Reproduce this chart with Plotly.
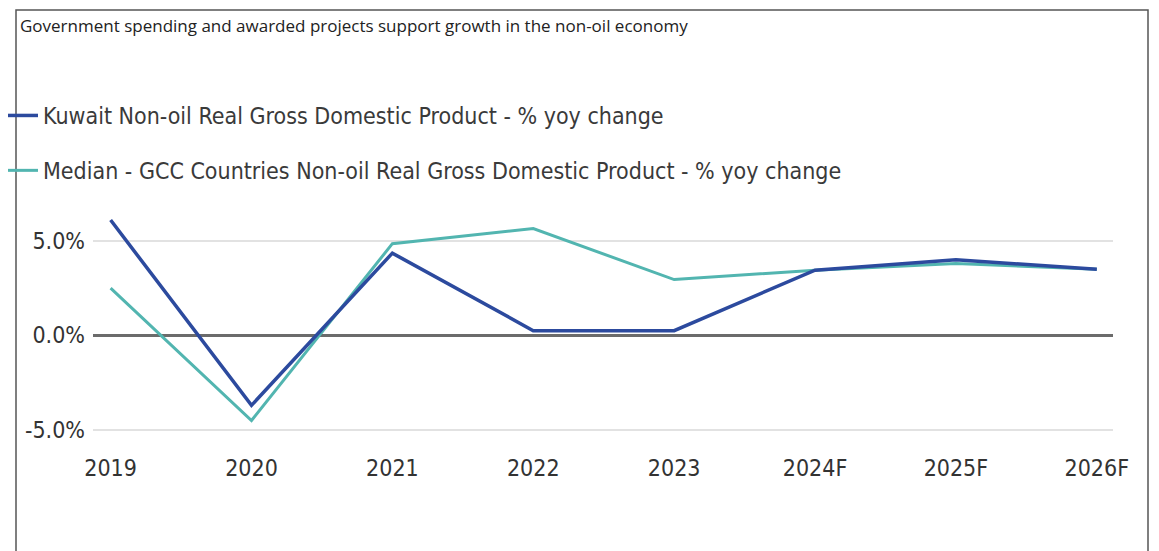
import plotly.graph_objects as go

categories = ["2019", "2020", "2021", "2022", "2023", "2024F", "2025F", "2026F"]
kuwait = [6.1, -3.7, 4.35, 0.25, 0.25, 3.45, 4.0, 3.5]
gcc_median = [2.5, -4.5, 4.85, 5.65, 2.95, 3.45, 3.8, 3.5]
kuwait_name = "Kuwait Non-oil Real Gross Domestic Product - % yoy change"
gcc_name = "Median - GCC Countries Non-oil Real Gross Domestic Product - % yoy change"
title_text = "Government spending and awarded projects support growth in the non-oil economy"
y_ticks = [-5, 0, 5]
y_tick_labels = ["-5.0%", "0.0%", "5.0%"]

# page has an 8px body margin, so figure pixels = screen pixels - 8
W, H = 1151, 543
L, R, T, B = 85, 46, 195, 104
pw, ph = W - L - R, H - T - B

def px_x(p):
    return (p - L) / pw

def px_y(p):
    return (H - B - p) / ph

FONT = "DejaVu Sans Condensed, Liberation Sans Narrow, Roboto, sans-serif"
KUWAIT_C = "#2c4a9e"
GCC_C = "#52b5b0"

fig = go.Figure()
fig.add_trace(go.Scatter(x=categories, y=gcc_median, mode="lines", name=gcc_name,
                         line=dict(color=GCC_C, width=3), legendrank=2, legendgroup="b"))
fig.add_trace(go.Scatter(x=categories, y=kuwait, mode="lines", name=kuwait_name,
                         line=dict(color=KUWAIT_C, width=3.5), legendrank=1, legendgroup="a"))

fig.update_layout(
    width=W, height=H,
    margin=dict(l=L, r=R, t=T, b=B, autoexpand=False),
    paper_bgcolor="white", plot_bgcolor="white",
    font=dict(family=FONT, color="#333333", size=23),
    title=dict(text=title_text, xref="container", yref="container",
               x=12 / W, xanchor="left", y=1 - 18 / H, yanchor="middle",
               font=dict(family="Open Sans", size=17, color="#222222")),
    showlegend=True,
    legend=dict(orientation="v", x=px_x(-5), xanchor="left", y=px_y(86), yanchor="top",
                font=dict(size=23, color="#3a3a3a"), bgcolor="rgba(0,0,0,0)",
                itemwidth=30, tracegroupgap=22, traceorder="grouped"),
    xaxis=dict(type="category", range=[-0.125, 7.115], showgrid=False, zeroline=False,
               showline=False, ticks="", tickfont=dict(size=23, color="#333333"),
               ticklabelstandoff=5),
    yaxis=dict(range=[-5.9, 7.0], tickvals=y_ticks, ticktext=y_tick_labels,
               showgrid=True, gridcolor="#e2e2e2", gridwidth=1.5,
               zeroline=True, zerolinecolor="#6b6b6b", zerolinewidth=2.5,
               showline=False, ticks="", tickfont=dict(size=23, color="#333333"),
               ticklabelstandoff=7),
)

fig.add_shape(type="rect", xref="paper", yref="paper",
              x0=px_x(8), x1=px_x(1140), y0=px_y(560), y1=px_y(2),
              line=dict(color="#555555", width=1.5), fillcolor="rgba(0,0,0,0)", layer="below")

fig.write_html("out.html")
